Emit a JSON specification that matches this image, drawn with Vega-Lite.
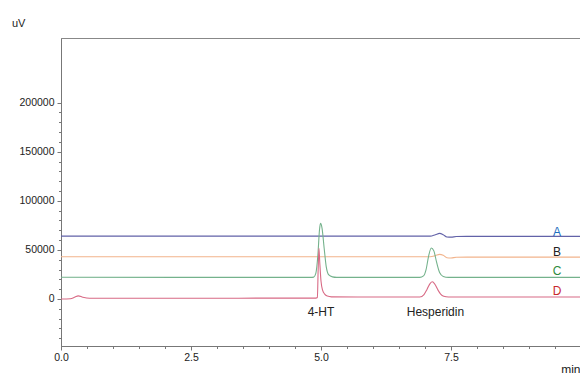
{
  "$schema": "https://vega.github.io/schema/vega-lite/v6.json",
  "width": 519,
  "height": 308,
  "autosize": {"type": "none"},
  "padding": {"left": 61, "top": 38, "right": 0, "bottom": 27},
  "background": "white",
  "title": {"text": "uV", "anchor": "start", "frame": "bounds", "fontSize": 11, "fontWeight": "normal", "color": "#222", "offset": 9, "dx": -7},
  "config": {
    "font": "Liberation Sans",
    "view": {"stroke": "#888", "strokeWidth": 1},
    "axis": {"grid": false, "domainColor": "#777", "tickColor": "#777", "labelColor": "#222", "labelFontSize": 10.5, "labelFont": "Liberation Sans", "titleFont": "Liberation Sans", "labelOverlap": false}
  },
  "datasets": {
    "traces": [
      {"series": "A", "t": 0, "v": 64000},
      {"series": "A", "t": 7.1, "v": 64000},
      {"series": "A", "t": 7.2, "v": 65500},
      {"series": "A", "t": 7.28, "v": 66800},
      {"series": "A", "t": 7.35, "v": 65500},
      {"series": "A", "t": 7.42, "v": 63200},
      {"series": "A", "t": 7.5, "v": 63000},
      {"series": "A", "t": 7.6, "v": 63600},
      {"series": "A", "t": 7.8, "v": 63800},
      {"series": "A", "t": 9.98, "v": 63800},
      {"series": "B", "t": 0, "v": 43000},
      {"series": "B", "t": 7.1, "v": 43000},
      {"series": "B", "t": 7.2, "v": 44200},
      {"series": "B", "t": 7.28, "v": 45500},
      {"series": "B", "t": 7.35, "v": 44500},
      {"series": "B", "t": 7.42, "v": 42000},
      {"series": "B", "t": 7.5, "v": 41800},
      {"series": "B", "t": 7.6, "v": 42500},
      {"series": "B", "t": 7.8, "v": 42700},
      {"series": "B", "t": 9.98, "v": 42700},
      {"series": "C", "t": 0, "v": 22200},
      {"series": "C", "t": 4.8, "v": 22000},
      {"series": "C", "t": 4.86, "v": 22300},
      {"series": "C", "t": 4.9, "v": 26000},
      {"series": "C", "t": 4.94, "v": 45000},
      {"series": "C", "t": 4.97, "v": 70000},
      {"series": "C", "t": 4.99, "v": 77000},
      {"series": "C", "t": 5.02, "v": 72000},
      {"series": "C", "t": 5.06, "v": 52000},
      {"series": "C", "t": 5.1, "v": 33000},
      {"series": "C", "t": 5.15, "v": 24500},
      {"series": "C", "t": 5.22, "v": 22500},
      {"series": "C", "t": 5.3, "v": 22000},
      {"series": "C", "t": 6.9, "v": 22000},
      {"series": "C", "t": 6.97, "v": 23500},
      {"series": "C", "t": 7.02, "v": 30000},
      {"series": "C", "t": 7.07, "v": 44000},
      {"series": "C", "t": 7.12, "v": 52000},
      {"series": "C", "t": 7.17, "v": 49000},
      {"series": "C", "t": 7.22, "v": 38000},
      {"series": "C", "t": 7.28, "v": 27000},
      {"series": "C", "t": 7.35, "v": 23000},
      {"series": "C", "t": 7.45, "v": 22000},
      {"series": "C", "t": 9.98, "v": 22000},
      {"series": "D", "t": 0, "v": 0},
      {"series": "D", "t": 0.18, "v": 300},
      {"series": "D", "t": 0.27, "v": 2000},
      {"series": "D", "t": 0.33, "v": 3200},
      {"series": "D", "t": 0.42, "v": 1800},
      {"series": "D", "t": 0.55, "v": 800},
      {"series": "D", "t": 2.0, "v": 800},
      {"series": "D", "t": 4.9, "v": 900},
      {"series": "D", "t": 4.93, "v": 1500},
      {"series": "D", "t": 4.945, "v": 30000},
      {"series": "D", "t": 4.96, "v": 51600},
      {"series": "D", "t": 4.975, "v": 38000},
      {"series": "D", "t": 5.0, "v": 18000},
      {"series": "D", "t": 5.03, "v": 9000},
      {"series": "D", "t": 5.07, "v": 5000},
      {"series": "D", "t": 5.12, "v": 3000},
      {"series": "D", "t": 5.2, "v": 2200},
      {"series": "D", "t": 6.0, "v": 2000},
      {"series": "D", "t": 6.9, "v": 2000},
      {"series": "D", "t": 6.98, "v": 4500},
      {"series": "D", "t": 7.04, "v": 10000},
      {"series": "D", "t": 7.1, "v": 16000},
      {"series": "D", "t": 7.14, "v": 17500},
      {"series": "D", "t": 7.19, "v": 15000},
      {"series": "D", "t": 7.25, "v": 9000},
      {"series": "D", "t": 7.3, "v": 5000},
      {"series": "D", "t": 7.36, "v": 2800},
      {"series": "D", "t": 7.45, "v": 2000},
      {"series": "D", "t": 9.98, "v": 2000}
    ],
    "labels": [
      {"label": "A", "t": 9.54, "v": 68600},
      {"label": "B", "t": 9.54, "v": 48200},
      {"label": "C", "t": 9.54, "v": 28500},
      {"label": "D", "t": 9.54, "v": 8200},
      {"label": "4-HT", "t": 5.0, "v": -13750},
      {"label": "Hesperidin", "t": 7.2, "v": -13750}
    ]
  },
  "encoding": {
    "x": {
      "field": "t", "type": "quantitative",
      "scale": {"domain": [0, 9.98], "nice": false, "zero": false},
      "axis": {
        "title": "min", "titleAnchor": "end", "titleFontSize": 12, "titleFontWeight": "normal", "titleColor": "#222", "titlePadding": 2,
        "values": [0, 0.5, 1, 1.5, 2, 2.5, 3, 3.5, 4, 4.5, 5, 5.5, 6, 6.5, 7, 7.5, 8, 8.5, 9, 9.5],
        "labelExpr": "datum.value % 2.5 === 0 ? format(datum.value, '.1f') : ''",
        "tickSize": {"condition": {"test": "datum.value % 2.5 === 0", "value": 4}, "value": 2.5},
        "labelPadding": 2, "labelFlush": false, "labelOverlap": false
      }
    },
    "y": {
      "field": "v", "type": "quantitative",
      "scale": {"domain": [-47900, 265900], "nice": false, "zero": false},
      "axis": {
        "title": null,
        "values": [-40000, -30000, -20000, -10000, 0, 10000, 20000, 30000, 40000, 50000, 60000, 70000, 80000, 90000, 100000, 110000, 120000, 130000, 140000, 150000, 160000, 170000, 180000, 190000, 200000],
        "labelExpr": "datum.value % 50000 === 0 ? format(datum.value, 'd') : ''",
        "tickSize": {"condition": {"test": "datum.value % 50000 === 0", "value": 4}, "value": 2.5},
        "labelPadding": 3, "labelOverlap": false, "labelFlush": false
      }
    }
  },
  "layer": [
    {
      "data": {"name": "traces"},
      "mark": {"type": "line", "strokeWidth": 1.1, "interpolate": "monotone", "clip": true},
      "encoding": {
        "color": {
          "field": "series", "type": "nominal",
          "scale": {"domain": ["A", "B", "C", "D"], "range": ["#6262a8", "#f2b48c", "#74b28c", "#d86a85"]},
          "legend": null
        },
        "detail": {"field": "series"}
      }
    },
    {
      "data": {"name": "labels"},
      "mark": {"type": "text", "fontSize": 12, "align": "center", "baseline": "middle", "font": "Liberation Sans"},
      "encoding": {
        "text": {"field": "label"},
        "color": {
          "field": "label", "type": "nominal",
          "scale": {"domain": ["A", "B", "C", "D", "4-HT", "Hesperidin"], "range": ["#1f6fbf", "#222222", "#2e8b3e", "#c8282d", "#222222", "#222222"]},
          "legend": null
        }
      }
    }
  ],
  "resolve": {"scale": {"color": "independent"}}
}
